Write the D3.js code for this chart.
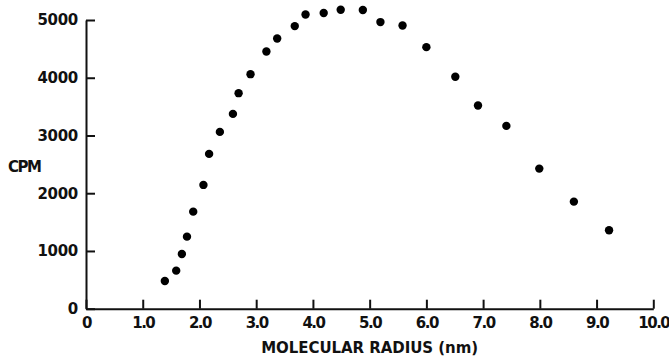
<!DOCTYPE html>
<html>
<head>
<meta charset="utf-8">
<script src="https://cdn.jsdelivr.net/npm/d3@7"></script>
<style>
  body { margin: 0; background: #fff; }
  svg { display: block; }
  .axis text { font-family: "DejaVu Sans", sans-serif; font-weight: bold; font-size: 15px; fill: #111; }
  .axis path, .axis line { stroke: #111; stroke-width: 2; }
  .label { font-family: "DejaVu Sans", sans-serif; font-weight: bold; fill: #111; }
</style>
</head>
<body>
<svg id="chart" width="669" height="357"></svg>
<script>
// molecular radius (nm) vs counts per minute
var radius = [1.39, 1.59, 1.69, 1.78, 1.89, 2.07, 2.17, 2.36, 2.59, 2.69, 2.90, 3.18, 3.37, 3.68,
              3.87, 4.19, 4.49, 4.88, 5.19, 5.58, 6.00, 6.51, 6.91, 7.41, 7.99, 8.60, 9.22];
var cpm = [480, 659, 948, 1248, 1681, 2144, 2681, 3062, 3374, 3733, 4062, 4454, 4679, 4894,
           5095, 5120, 5177, 5172, 4964, 4905, 4530, 4016, 3518, 3166, 2426, 1854, 1359];
var xTicks = [0, 1, 2, 3, 4, 5, 6, 7, 8, 9, 10];
var yTicks = [0, 1000, 2000, 3000, 4000, 5000];

var svg = d3.select("#chart");

var x = d3.scaleLinear().domain([0, 10]).range([86, 653.3]);
var y = d3.scaleLinear().domain([0, 5000]).range([308.7, 20]);

var xAxis = d3.axisBottom(x)
    .tickValues(xTicks)
    .tickSizeInner(-9)
    .tickSizeOuter(0)
    .tickPadding(9)
    .tickFormat(function(d){ return d === 0 ? "0" : d.toFixed(1); });

var yAxis = d3.axisLeft(y)
    .tickValues(yTicks)
    .tickSizeInner(-9)
    .tickSizeOuter(0)
    .tickPadding(8)
    .tickFormat(function(d){ return d; });

var gx = svg.append("g")
    .attr("class", "axis")
    .attr("transform", "translate(0," + y(0) + ")")
    .call(xAxis);
gx.selectAll("text").attr("letter-spacing", "-1.5");

var gy = svg.append("g")
    .attr("class", "axis")
    .attr("transform", "translate(" + x(0) + ",0)")
    .call(yAxis);
gy.selectAll("text").attr("letter-spacing", "-0.3");

svg.append("text")
    .attr("class", "label")
    .attr("x", 8)
    .attr("y", 172)
    .attr("font-size", 15)
    .attr("textLength", 34)
    .text("CPM");

svg.append("text")
    .attr("class", "label")
    .attr("x", (x(0) + x(10)) / 2)
    .attr("y", 353)
    .attr("text-anchor", "middle")
    .attr("font-size", 15)
    .attr("textLength", 217)
    .text("MOLECULAR RADIUS (nm)");

svg.append("g")
    .selectAll("circle")
    .data(radius)
    .enter()
    .append("circle")
    .attr("cx", function(d){ return x(d); })
    .attr("cy", function(d, i){ return y(cpm[i]); })
    .attr("r", 4.2)
    .attr("fill", "#000");
</script>
</body>
</html>
